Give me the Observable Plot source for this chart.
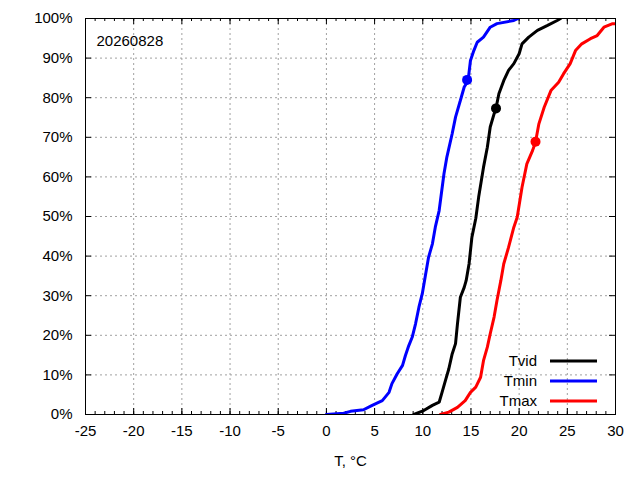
<!DOCTYPE html>
<html><head><meta charset="utf-8">
<script src="https://cdn.jsdelivr.net/npm/d3@7"></script>
<script src="https://cdn.jsdelivr.net/npm/@observablehq/plot@0.6"></script>
<style>body{margin:0;background:#fff} #chart{width:640px;height:480px}</style>
</head><body><div id="chart"></div>
<script>
// Data
const tminT = [0, 1.8, 2.5, 3.85, 4.75, 5.8, 6.5, 6.8, 7.35, 7.9, 8.2, 8.55, 8.9, 9.25, 9.6, 9.95, 10.3, 10.6, 11.0, 11.3, 11.7, 12.2, 12.5, 13.05, 13.4, 13.9, 14.3, 14.7, 14.95, 15.3, 15.65, 16.3, 17.0, 17.7, 19.45, 19.9];
const tminP = [0, 0.3, 0.8, 1.2, 2.3, 3.5, 5.6, 7.8, 10.3, 12.4, 14.9, 17.4, 19.5, 22.9, 27.1, 30.5, 35.5, 39.7, 43.1, 47.3, 51.5, 60.8, 65, 70.9, 75.1, 79.3, 82.7, 84.3, 89.4, 91.9, 94, 95.3, 97.8, 98.7, 99.5, 100];
const tvidT = [9.07, 10.1, 11.0, 11.7, 12.0, 12.4, 12.7, 13.05, 13.4, 13.6, 13.9, 14.3, 14.5, 14.8, 15.1, 15.5, 15.8, 16.3, 16.7, 17.0, 17.4, 17.6, 17.9, 18.4, 18.9, 19.45, 20.0, 20.3, 21.0, 21.9, 22.9, 23.95, 24.3];
const tvidP = [0, 1, 2.3, 3.1, 5.6, 9, 11.5, 15.3, 17.9, 22.9, 29.6, 32.1, 33.8, 38, 44.8, 49.5, 54.9, 62.4, 67.5, 72.6, 75.9, 77.4, 81, 84.3, 86.9, 88.6, 91.1, 93.6, 95.3, 97, 98.2, 99.5, 100];
const tmaxT = [11.84, 12.7, 13.6, 14.4, 14.95, 15.5, 16.0, 16.3, 16.7, 17.0, 17.4, 17.7, 18.1, 18.4, 18.9, 19.45, 19.8, 20.3, 20.8, 21.4, 21.7, 22.05, 22.6, 23.3, 24.1, 24.6, 25.3, 25.85, 26.5, 27.4, 28.1, 28.8, 29.7, 30];
const tmaxP = [0, 0.6, 1.8, 3.5, 5.6, 6.9, 9.4, 13.6, 17, 20.4, 24.6, 28.8, 33.8, 38, 42.2, 47.3, 49.8, 57.4, 63.3, 66.7, 68.8, 73.4, 77.6, 81.8, 83.9, 86, 88.6, 91.9, 93.6, 94.9, 95.7, 97.8, 98.7, 98.7];
const seriesNames = ["Tvid", "Tmin", "Tmax"];
const seriesColors = ["#000000", "#0000ff", "#ff0000"];
const markerT = [17.6, 14.6, 21.7];
const markerP = [77.3, 84.5, 68.9];
const xTicks = [-25, -20, -15, -10, -5, 0, 5, 10, 15, 20, 25, 30];
const xMinorTicks = d3.range(-25, 31, 1);
const yTicks = [0, 10, 20, 30, 40, 50, 60, 70, 80, 90, 100];
const dateLabel = "20260828";
const xLabel = "T, °C";

const seriesT = [tvidT, tminT, tmaxT];
const seriesP = [tvidP, tminP, tmaxP];
const rows = seriesNames.flatMap((name, i) =>
  seriesT[i].map((t, j) => ({name, color: seriesColors[i], T: t, P: seriesP[i][j]})));
const markers = seriesNames.map((name, i) => ({name, color: seriesColors[i], T: markerT[i], P: markerP[i]}));

const W = 640, H = 480, mL = 85, mR = 25, mT = 18, mB = 66;
const ph = H - mT - mB, pw = W - mL - mR;
const font = "'Liberation Sans', Arial, sans-serif";

const chart = Plot.plot({
  width: W, height: H,
  marginLeft: mL, marginRight: mR, marginTop: mT, marginBottom: mB,
  style: {fontFamily: font, fontSize: "15px", background: "#fff", color: "#000"},
  x: {domain: [-25, 30], axis: null},
  y: {domain: [0, 100], axis: null},
  color: {type: "identity"},
  marks: [
    Plot.ruleX(xTicks.slice(1, -1), {x: d => d, stroke: "#a0a0a0", strokeDasharray: "2,3", strokeWidth: 1}),
    Plot.ruleY(yTicks.slice(1, -1), {y: d => d, stroke: "#a0a0a0", strokeDasharray: "2,3", strokeWidth: 1}),
    Plot.ruleX(xMinorTicks, {x: d => d, insetTop: ph - 3, stroke: "#000"}),
    Plot.ruleX(xMinorTicks, {x: d => d, insetBottom: ph - 3, stroke: "#000"}),
    Plot.ruleX(xTicks, {x: d => d, insetTop: ph - 6, stroke: "#000"}),
    Plot.ruleX(xTicks, {x: d => d, insetBottom: ph - 6, stroke: "#000"}),
    Plot.ruleY(yTicks, {y: d => d, insetRight: pw - 6, stroke: "#000"}),
    Plot.ruleY(yTicks, {y: d => d, insetLeft: pw - 6, stroke: "#000"}),
    Plot.line(rows, {x: "T", y: "P", z: "name", stroke: "color", strokeWidth: 3, clip: true, strokeLinejoin: "miter"}),
    Plot.dot(markers, {x: "T", y: "P", r: 5, fill: "color", stroke: "none"}),
    Plot.frame({stroke: "#000", strokeWidth: 1}),
    Plot.text(xTicks, {x: d => d, frameAnchor: "bottom", dy: 21, text: d => String(d), fill: "#000"}),
    Plot.text(yTicks, {y: d => d, frameAnchor: "left", textAnchor: "end", dx: -13, text: d => d + "%", fill: "#000"}),
    Plot.text([xLabel], {frameAnchor: "bottom", dy: 51, text: d => d, fill: "#000"}),
    Plot.text([dateLabel], {frameAnchor: "top-left", textAnchor: "start", dx: 11, dy: 17, text: d => d, fill: "#000"})
  ]
});

// Legend (inside plot, bottom right)
const svg = d3.select(chart);
const lg = svg.append("g").attr("font-family", font).attr("font-size", 15);
seriesNames.forEach((name, i) => {
  const y = 361 + 20 * i;
  lg.append("text").attr("x", 537).attr("y", y).attr("dy", "0.32em")
    .attr("text-anchor", "end").attr("fill", "#000").text(name);
  lg.append("line").attr("x1", 550).attr("x2", 597).attr("y1", y).attr("y2", y)
    .attr("stroke", seriesColors[i]).attr("stroke-width", 3);
});

document.getElementById("chart").appendChild(chart);
</script>
</body></html>
